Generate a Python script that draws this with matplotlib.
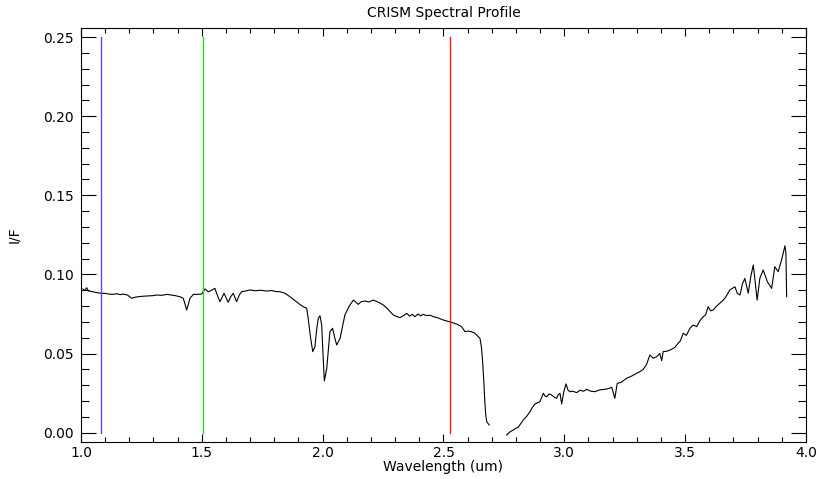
import matplotlib
matplotlib.use("Agg")
import matplotlib.pyplot as plt
from matplotlib.ticker import MultipleLocator
import numpy as np

# Spectrum (wavelength in um, I/F)
wave_short = [1.008, 1.016, 1.024, 1.030, 1.037, 1.050, 1.065, 1.082, 1.100, 1.115,
              1.132, 1.150, 1.162, 1.174, 1.192, 1.210, 1.222, 1.236, 1.255, 1.275,
              1.298, 1.315, 1.335, 1.355, 1.372, 1.390, 1.410, 1.423, 1.430, 1.437,
              1.444, 1.451, 1.465, 1.480, 1.499, 1.513, 1.527, 1.540, 1.554, 1.565,
              1.575, 1.592, 1.609, 1.620, 1.630, 1.644, 1.655, 1.665, 1.680, 1.699,
              1.720, 1.745, 1.768, 1.790, 1.805, 1.823, 1.845, 1.865, 1.885, 1.906,
              1.920, 1.934, 1.940, 1.950, 1.959, 1.968, 1.975, 1.982, 1.989, 1.996,
              2.002, 2.007, 2.017, 2.030, 2.041, 2.050, 2.058, 2.072, 2.092, 2.110,
              2.127, 2.137, 2.147, 2.160, 2.175, 2.192, 2.209, 2.230, 2.251, 2.270,
              2.292, 2.305, 2.320, 2.335, 2.348, 2.360, 2.370, 2.382, 2.395, 2.405,
              2.416, 2.430, 2.445, 2.458, 2.478, 2.499, 2.515, 2.534, 2.555, 2.575,
              2.589, 2.600, 2.616, 2.628, 2.637, 2.651, 2.657, 2.662, 2.667, 2.671,
              2.675, 2.679, 2.689]
if_short = [0.0908, 0.0900, 0.0916, 0.0895, 0.0895, 0.0890, 0.0885, 0.0881, 0.0880, 0.0876,
            0.0874, 0.0878, 0.0872, 0.0876, 0.0870, 0.0849, 0.0855, 0.0859, 0.0862, 0.0864,
            0.0866, 0.0870, 0.0868, 0.0874, 0.0870, 0.0866, 0.0859, 0.0849, 0.0815, 0.0775,
            0.0810, 0.0849, 0.0874, 0.0874, 0.0876, 0.0908, 0.0890, 0.0900, 0.0912, 0.0865,
            0.0828, 0.0881, 0.0824, 0.0860, 0.0881, 0.0828, 0.0870, 0.0891, 0.0895, 0.0902,
            0.0897, 0.0900, 0.0895, 0.0898, 0.0892, 0.0891, 0.0880, 0.0859, 0.0835, 0.0810,
            0.0796, 0.0786, 0.0723, 0.0600, 0.0512, 0.0543, 0.0650, 0.0723, 0.0739, 0.0680,
            0.0480, 0.0327, 0.0407, 0.0638, 0.0660, 0.0600, 0.0554, 0.0596, 0.0744, 0.0800,
            0.0838, 0.0825, 0.0811, 0.0828, 0.0832, 0.0826, 0.0838, 0.0825, 0.0807, 0.0780,
            0.0744, 0.0735, 0.0727, 0.0740, 0.0754, 0.0736, 0.0748, 0.0733, 0.0750, 0.0738,
            0.0748, 0.0740, 0.0742, 0.0733, 0.0725, 0.0712, 0.0705, 0.0697, 0.0686, 0.0670,
            0.0638, 0.0642, 0.0638, 0.0630, 0.0617, 0.0596, 0.0540, 0.0449, 0.0320, 0.0196,
            0.0110, 0.0069, 0.0049]

wave_long = [2.761, 2.775, 2.789, 2.800, 2.809, 2.820, 2.830, 2.845, 2.858, 2.868,
             2.878, 2.890, 2.899, 2.913, 2.920, 2.927, 2.937, 2.947, 2.958, 2.968,
             2.975, 2.982, 2.989, 2.998, 3.007, 3.015, 3.023, 3.035, 3.051, 3.065,
             3.080, 3.092, 3.110, 3.127, 3.145, 3.168, 3.185, 3.196, 3.209, 3.219,
             3.235, 3.258, 3.275, 3.299, 3.312, 3.326, 3.340, 3.354, 3.368, 3.382,
             3.395, 3.403, 3.409, 3.425, 3.444, 3.458, 3.471, 3.480, 3.492, 3.505,
             3.520, 3.533, 3.548, 3.562, 3.575, 3.585, 3.595, 3.605, 3.616, 3.630,
             3.651, 3.665, 3.685, 3.706, 3.716, 3.727, 3.737, 3.747, 3.761, 3.772,
             3.782, 3.798, 3.809, 3.823, 3.840, 3.858, 3.871, 3.885, 3.899, 3.913,
             3.917, 3.920]
if_long = [-0.0015, 0.0005, 0.0017, 0.0028, 0.0034, 0.0058, 0.0080, 0.0105, 0.0133, 0.0160,
           0.0181, 0.0190, 0.0196, 0.0249, 0.0232, 0.0227, 0.0245, 0.0238, 0.0225, 0.0217,
           0.0240, 0.0249, 0.0181, 0.0260, 0.0308, 0.0270, 0.0259, 0.0262, 0.0253, 0.0268,
           0.0262, 0.0274, 0.0262, 0.0259, 0.0270, 0.0274, 0.0280, 0.0287, 0.0217, 0.0312,
           0.0318, 0.0344, 0.0355, 0.0375, 0.0385, 0.0400, 0.0430, 0.0491, 0.0470, 0.0480,
           0.0500, 0.0455, 0.0512, 0.0515, 0.0527, 0.0540, 0.0565, 0.0580, 0.0628, 0.0615,
           0.0660, 0.0680, 0.0670, 0.0710, 0.0733, 0.0745, 0.0796, 0.0770, 0.0775, 0.0800,
           0.0828, 0.0850, 0.0902, 0.0922, 0.0880, 0.0870, 0.0940, 0.0975, 0.0881, 0.0990,
           0.1060, 0.0838, 0.0975, 0.1028, 0.0954, 0.0912, 0.1049, 0.1017, 0.1091, 0.1181,
           0.1134, 0.0859]

# band positions marked on the plot
marker_waves = [1.083, 1.505, 2.527]
marker_colors = ["#4f4fff", "#22dd22", "#ff1a1a"]

fig = plt.figure(figsize=(8.19, 4.79), dpi=100)
ax = fig.add_axes([0.0989, 0.0772, 0.8852, 0.8643])

ax.plot(wave_short, if_short, color="black", linewidth=0.8)
ax.plot(wave_long, if_long, color="black", linewidth=0.8)

for w, c in zip(marker_waves, marker_colors):
    ax.plot([w, w], [0.0, 0.25], color=c, linewidth=1.0)

ax.set_xlim(1.0, 4.0)
ax.set_ylim(-0.0059, 0.2557)

ax.xaxis.set_major_locator(MultipleLocator(0.5))
ax.xaxis.set_minor_locator(MultipleLocator(0.1))
ax.yaxis.set_major_locator(MultipleLocator(0.05))
ax.yaxis.set_minor_locator(MultipleLocator(0.01))
ax.xaxis.set_major_formatter(plt.FormatStrFormatter("%.1f"))
ax.yaxis.set_major_formatter(plt.FormatStrFormatter("%.2f"))

ax.tick_params(axis="both", which="both", direction="in", top=True, right=True,
               color="black", width=0.8, labelsize=10)
ax.tick_params(axis="x", which="major", length=6, pad=3)
ax.tick_params(axis="x", which="minor", length=3.5)
ax.tick_params(axis="y", which="major", length=10.5, pad=5)
ax.tick_params(axis="y", which="minor", length=5.5)

for spine in ax.spines.values():
    spine.set_linewidth(0.8)

ax.set_title("CRISM Spectral Profile", fontsize=10, pad=8)
ax.set_xlabel("Wavelength (um)", fontsize=10, labelpad=0)
ax.set_ylabel("I/F", fontsize=10, labelpad=16)

plt.savefig("out.png", dpi=100)
